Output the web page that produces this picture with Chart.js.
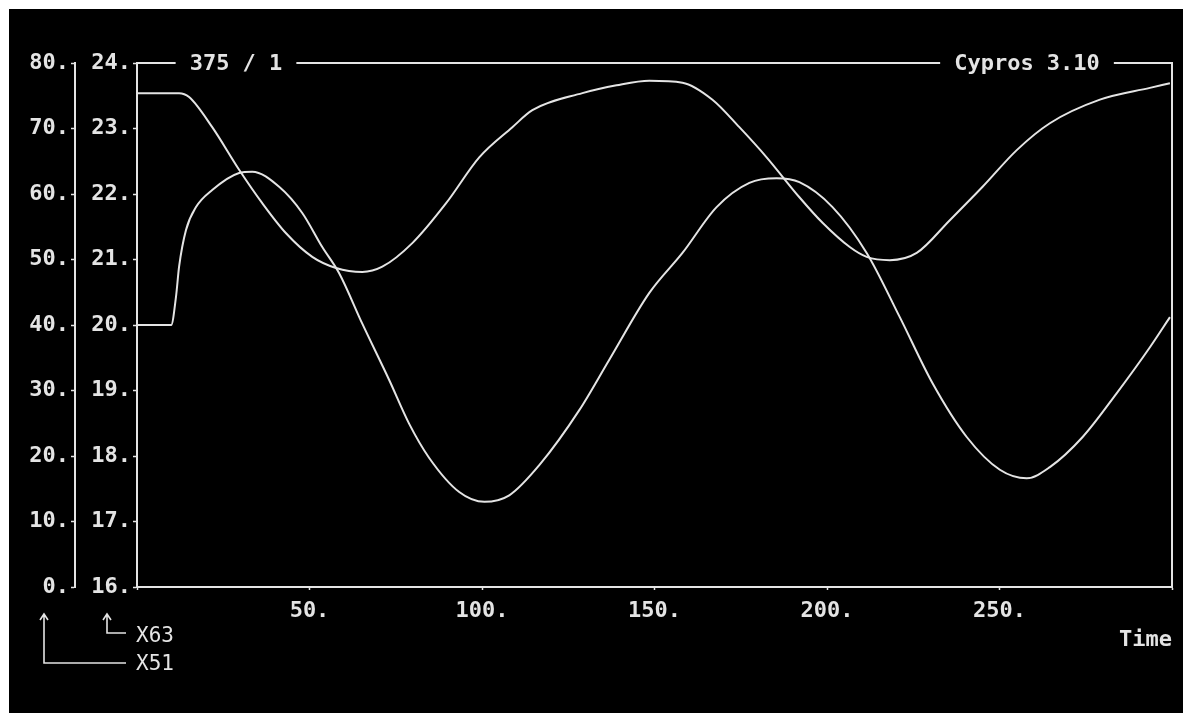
<!DOCTYPE html>
<html>
<head>
<meta charset="utf-8">
<script src="https://cdn.jsdelivr.net/npm/chart.js@4/dist/chart.umd.min.js"></script>
<style>
  html, body { margin: 0; padding: 0; background: #fff; }
  canvas { display: block; }
</style>
</head>
<body>
<canvas id="c" width="1183" height="713"></canvas>
<script>
// ---- Data ----
const timeA = [0, 12.2, 15.1, 21.8, 29.6, 36.3, 43.2, 50.8, 57.7, 65.3, 71.1, 79.8, 89.6, 99.2, 108.8, 114.6, 129.1, 139, 148.5, 158.1, 166.8, 174.6, 182.5, 192, 198.7, 206.6, 211.5, 218.2, 226, 235.6, 245.1, 255, 264.6, 279.1, 293.6, 299.4];
const x51 = [75.4, 75.4, 74.8, 70.2, 63.7, 58.6, 54.0, 50.4, 48.7, 48.1, 48.9, 52.5, 58.6, 65.6, 70.2, 72.8, 75.4, 76.6, 77.3, 77.0, 74.4, 70.2, 65.6, 59.5, 55.6, 51.9, 50.4, 49.9, 51.0, 56.0, 61.1, 66.7, 70.8, 74.4, 76.2, 76.9];

const timeB = [0, 9.9, 11.3, 12.2, 14.2, 17.1, 21.8, 29.6, 33.4, 41.2, 47.9, 53.7, 58.6, 65.3, 73.1, 78.9, 84.7, 93.4, 100.7, 107.9, 116.6, 128.2, 136.9, 148.5, 158.1, 168, 177.5, 185.4, 192, 201.6, 211.5, 221.1, 230.6, 240.5, 250.1, 257.9, 264.6, 274.1, 284, 293.6, 299.4];
const x63 = [20.0, 20.0, 20.43, 20.89, 21.45, 21.8, 22.06, 22.32, 22.34, 22.11, 21.71, 21.19, 20.79, 20.02, 19.16, 18.49, 17.97, 17.45, 17.3, 17.4, 17.86, 18.7, 19.47, 20.49, 21.1, 21.8, 22.17, 22.24, 22.18, 21.8, 21.1, 20.12, 19.11, 18.29, 17.79, 17.66, 17.83, 18.29, 18.96, 19.66, 20.12];

const xTickLabels = ['50.', '100.', '150.', '200.', '250.'];
const headerLeft = '375 / 1';
const headerRight = 'Cypros 3.10';
const xTitle = 'Time';
const axisNames = ['X51', 'X63'];

// ---- Styling ----
const FG = '#e4e4e4';
const FONT = '"DejaVu Sans Mono", "Liberation Mono", monospace';

function pts(t, v) { return t.map((x, i) => ({ x: x, y: v[i] })); }

const decor = {
  id: 'decor',
  beforeDraw(chart) {
    const ctx = chart.ctx;
    ctx.save();
    ctx.fillStyle = '#ffffff';
    ctx.fillRect(0, 0, chart.width, chart.height);
    ctx.fillStyle = '#000000';
    ctx.fillRect(9, 9, chart.width - 9, chart.height - 9);
    ctx.restore();
  },
  afterDraw(chart) {
    const ctx = chart.ctx;
    const a = chart.chartArea;
    ctx.save();
    ctx.strokeStyle = FG;
    ctx.fillStyle = FG;
    ctx.lineWidth = 2;
    ctx.font = 'bold 22px ' + FONT;
    ctx.textBaseline = 'middle';

    // header line with two labels
    const y = a.top;
    const cL = 236, cR = 1027;
    const wL = ctx.measureText(headerLeft).width;
    const wR = ctx.measureText(headerRight).width;
    const gap = 14;
    ctx.beginPath();
    ctx.moveTo(a.left, y); ctx.lineTo(cL - wL / 2 - gap, y);
    ctx.moveTo(cL + wL / 2 + gap, y); ctx.lineTo(cR - wR / 2 - gap, y);
    ctx.moveTo(cR + wR / 2 + gap, y); ctx.lineTo(a.right, y);
    ctx.lineTo(a.right, a.bottom);
    ctx.stroke();
    ctx.textAlign = 'center';
    ctx.fillText(headerLeft, cL, y + 1);
    ctx.fillText(headerRight, cR, y + 1);

    // x title
    ctx.textAlign = 'right';
    ctx.fillText(xTitle, a.right, 640);

    // axis name legend with arrows
    ctx.lineWidth = 1.6;
    function arrow(x, yTop, yBot, xEnd) {
      ctx.beginPath();
      ctx.moveTo(x, yTop); ctx.lineTo(x, yBot); ctx.lineTo(xEnd, yBot);
      ctx.moveTo(x - 4, yTop + 6); ctx.lineTo(x, yTop); ctx.lineTo(x + 4, yTop + 6);
      ctx.stroke();
    }
    arrow(44, 614, 663, 126);
    arrow(107, 614, 633, 126);
    ctx.font = '21px ' + FONT;
    ctx.textAlign = 'left';
    ctx.fillText(axisNames[0], 136, 665);
    ctx.fillText(axisNames[1], 136, 637);
    ctx.restore();
  }
};

new Chart(document.getElementById('c'), {
  type: 'line',
  data: {
    datasets: [
      { label: axisNames[0], data: pts(timeA, x51), yAxisID: 'y51' },
      { label: axisNames[1], data: pts(timeB, x63), yAxisID: 'y63' }
    ]
  },
  options: {
    responsive: false,
    animation: false,
    devicePixelRatio: 1,
    parsing: true,
    layout: { padding: { left: 0, top: 63, right: 11, bottom: 0 } },
    elements: {
      line: { borderColor: FG, borderWidth: 2, cubicInterpolationMode: 'monotone', fill: false },
      point: { radius: 0 }
    },
    plugins: { legend: { display: false }, tooltip: { enabled: false }, title: { display: false } },
    scales: {
      x: {
        type: 'linear', position: 'bottom', min: 0, max: 300,
        afterFit(s) { s.height = 126; },
        border: { display: true, color: FG, width: 2 },
        grid: { drawOnChartArea: false, drawTicks: true, tickLength: 3, color: FG, tickWidth: 1.5 },
        ticks: {
          stepSize: 50, color: FG, padding: 8, maxRotation: 0, autoSkip: false,
          font: { family: FONT, size: 22, weight: 'bold' },
          callback: (v) => { const i = v / 50 - 1; return (i >= 0 && i < xTickLabels.length) ? xTickLabels[i] : ''; }
        }
      },
      y51: {
        type: 'linear', position: 'left', min: 0, max: 80, weight: 2,
        afterFit(s) { s.width = 75; },
        border: { display: true, color: FG, width: 2 },
        grid: { drawOnChartArea: false, tickLength: 4, color: FG, tickWidth: 1.5 },
        ticks: { stepSize: 10, color: FG, padding: 2, font: { family: FONT, size: 22, weight: 'bold' }, callback: (v) => v + '.' }
      },
      y63: {
        type: 'linear', position: 'left', min: 16, max: 24, weight: 1,
        afterFit(s) { s.width = 62; },
        border: { display: true, color: FG, width: 2 },
        grid: { drawOnChartArea: false, tickLength: 4, color: FG, tickWidth: 1.5 },
        ticks: { stepSize: 1, color: FG, padding: 2, font: { family: FONT, size: 22, weight: 'bold' }, callback: (v) => v + '.' }
      }
    }
  },
  plugins: [decor]
});
</script>
</body>
</html>
